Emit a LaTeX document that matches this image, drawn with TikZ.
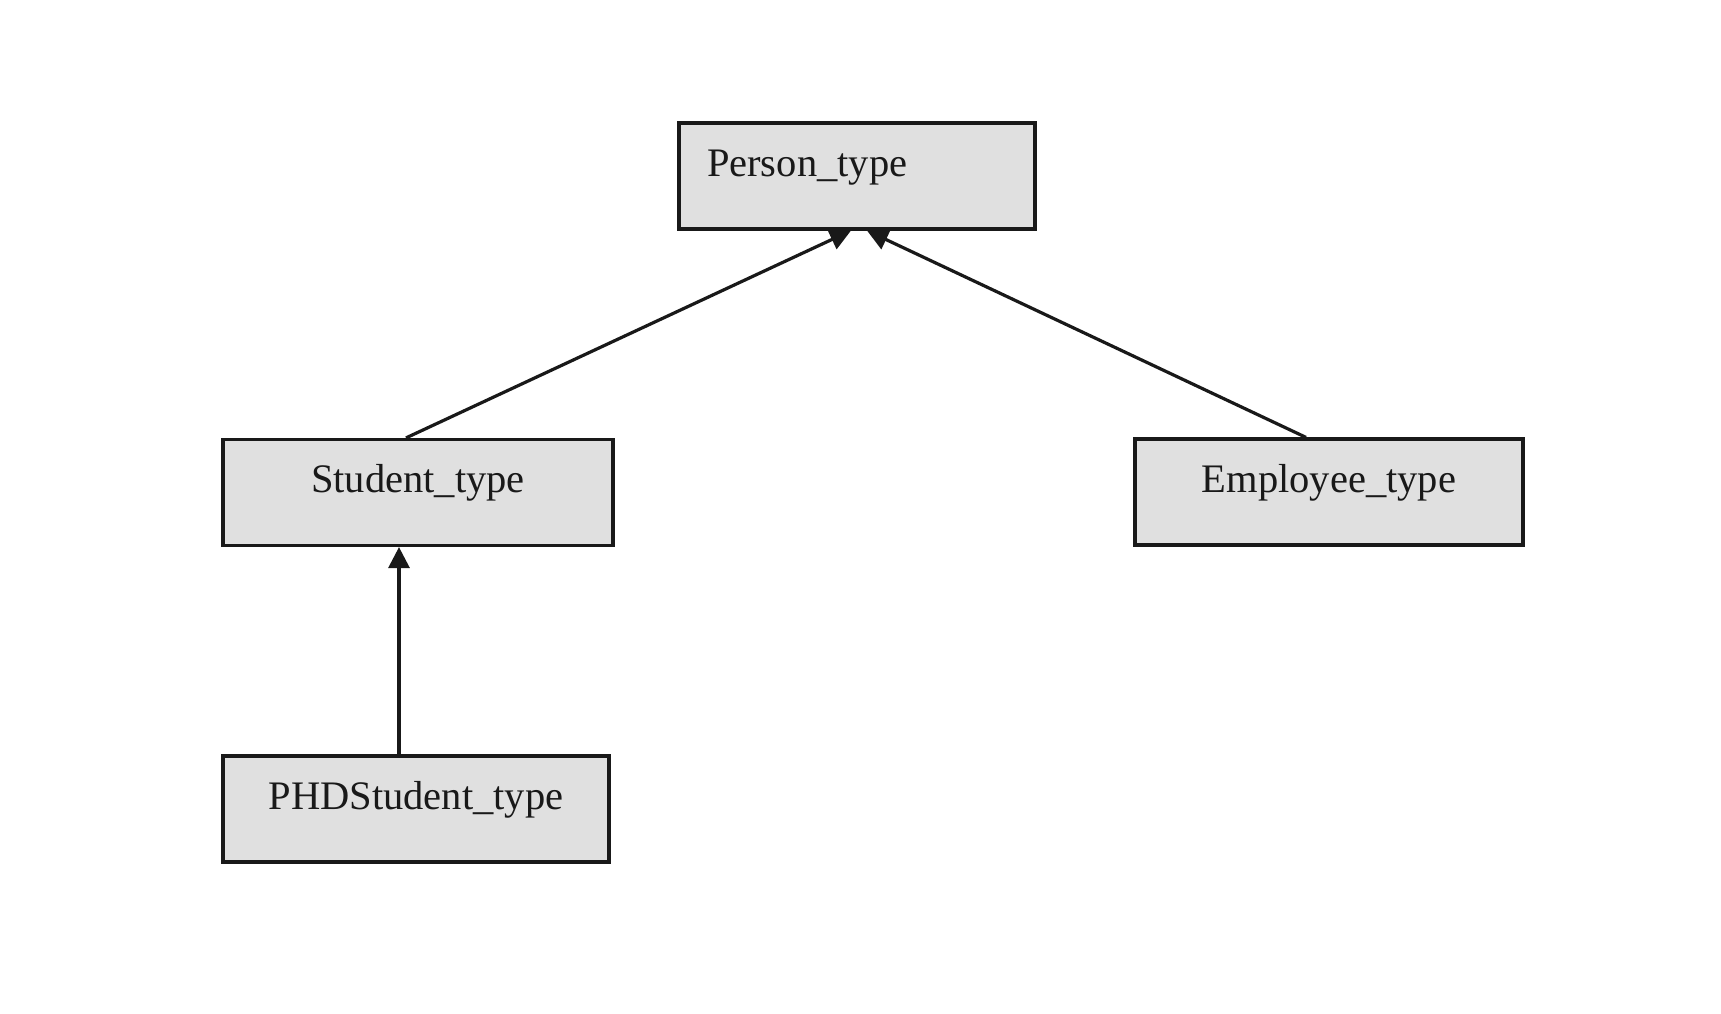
\documentclass[tikz,border=0pt]{standalone}
\usepackage{fontspec}
\setmainfont{Liberation Serif}
\usetikzlibrary{arrows.meta}
\definecolor{boxfill}{RGB}{224,224,224}
\definecolor{ink}{RGB}{25,25,25}
\begin{document}
\begin{tikzpicture}[x=1pt,y=-1pt,
  typebox/.style={draw=ink, line width=3.2pt, fill=boxfill, rectangle,
    minimum width=#1, minimum height=106pt, inner sep=0pt,
    font=\fontsize{40.5}{44}\selectfont, text=ink,
    text height=19pt, text depth=19pt},
  inherit/.style={draw=ink, line width=3.2pt,
    -{Triangle[length=21pt,width=21pt]}}]
  \useasboundingbox (0,0) rectangle (1721,1014);
  \fill[white] (0,0) rectangle (1721,1014);

  % type hierarchy
  \node[typebox=356pt, text width=300pt, align=left] (person) at (857,176) {Person\_type};
  \node[typebox=390pt] (student) at (418,492.5) {Student\_type};
  \node[typebox=388pt] (employee) at (1329,492) {Employee\_type};
  \node[typebox=386pt] (phd) at (416,809) {PHDStudent\_type};

  % inheritance arrows
  \draw[inherit] ([xshift=-12pt]student.north) -- ([xshift=-6pt]person.south);
  \draw[inherit] ([xshift=-23pt]employee.north) -- ([xshift=10pt]person.south);
  \draw[inherit] ([xshift=-17pt]phd.north) -- ([xshift=-19pt]student.south);
\end{tikzpicture}
\end{document}
